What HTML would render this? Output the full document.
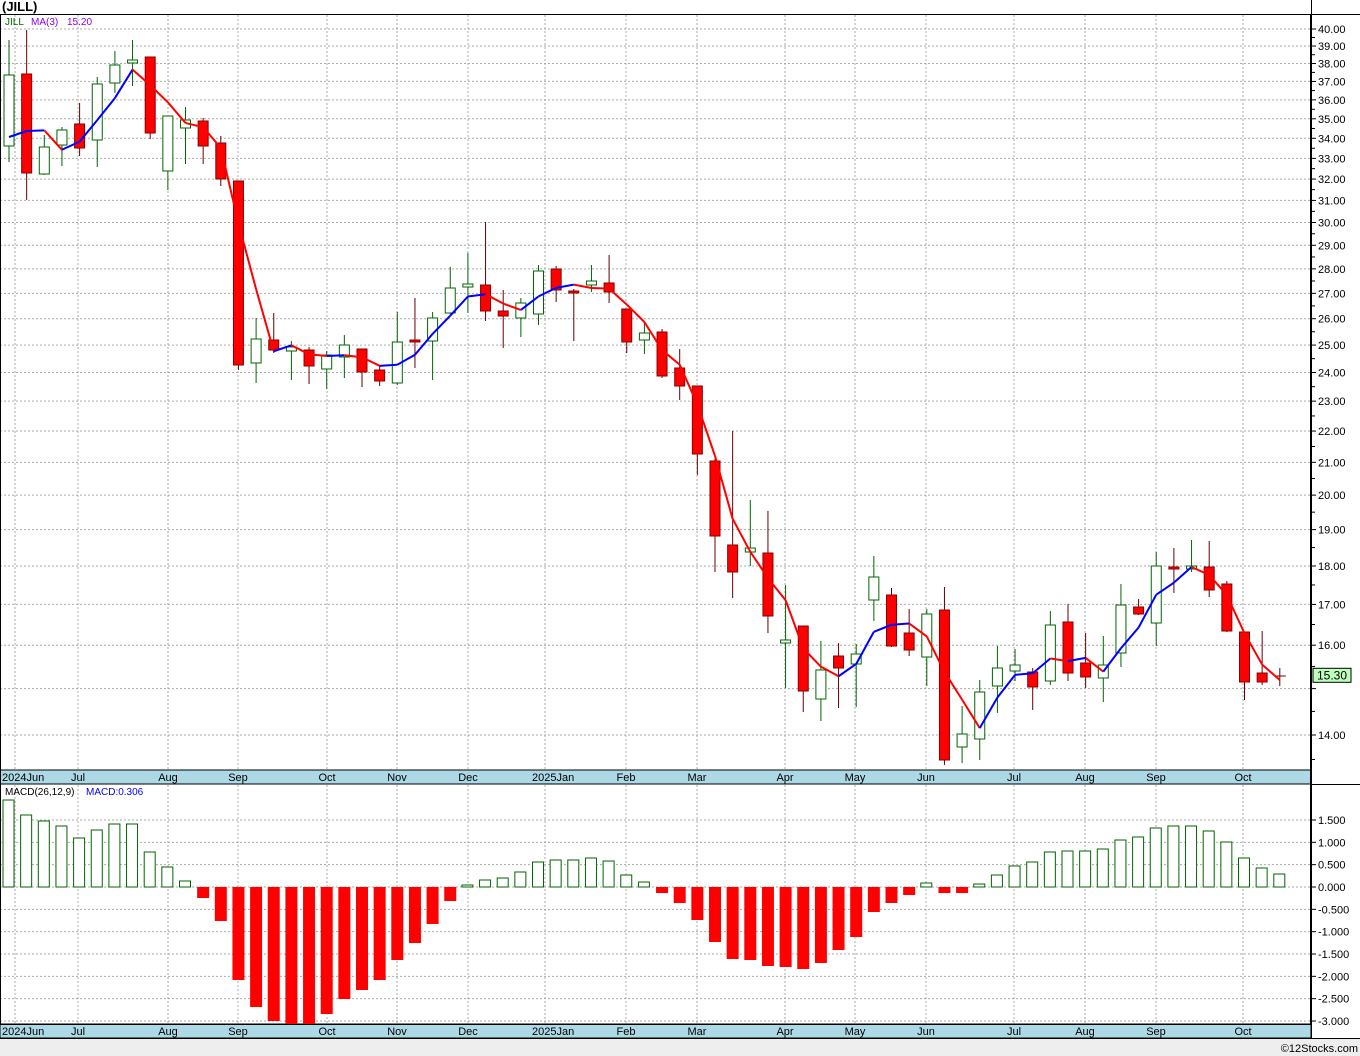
<!DOCTYPE html>
<html><head><meta charset="utf-8"><style>
body{margin:0;background:#fff;}
svg{display:block;font-family:"Liberation Sans",sans-serif;}
</style></head><body>
<svg id="s" width="1360" height="1056" xmlns="http://www.w3.org/2000/svg"></svg>
<script>
const S=document.getElementById('s');let h='';
const Y=p=>29+(Math.log(40)-Math.log(p))*672.5;
const P=y=>Math.exp(Math.log(40)-(y-29)/672.5);
const MY=v=>887-v*44.67;
h+='<rect x="0" y="0" width="1360" height="1056" fill="#fff"/>';
h+='<rect x="0" y="1038" width="1360" height="18" fill="#eee"/>';
h+='<text x="2" y="11" font-size="13" font-weight="bold" fill="#000">(JILL)</text>';
// price grid
for(let p=14;p<=40;p++){const y=Y(p);h+=`<line x1="0" x2="1311" y1="${y}" y2="${y}" stroke="#aaa" stroke-dasharray="2,2"/>`;
 h+=`<line x1="1311" x2="1316" y1="${y}" y2="${y}" stroke="#000"/>`;
 if(p!=15)h+=`<text x="1318" y="${y+4}" font-size="11">${p}.00</text>`;}
for(let p=13.5;p<=40;p+=1){const y=Y(p);if(y>30&&y<770)h+=`<line x1="1311" x2="1315" y1="${y}" y2="${y}" stroke="#000"/>`;}
for(let v=-3;v<=1.5;v+=0.5){const y=MY(v);h+=`<line x1="0" x2="1311" y1="${y}" y2="${y}" stroke="#aaa" stroke-dasharray="2,2"/>`;
 h+=`<line x1="1311" x2="1316" y1="${y}" y2="${y}" stroke="#000"/><text x="1318" y="${y+4}" font-size="11">${v.toFixed(3)}</text>`;}
const months=[[15,'2024Jun',2],[78,'Jul'],[168,'Aug'],[238,'Sep'],[327,'Oct'],[397,'Nov'],[468,'Dec'],[545,'2025Jan',532],[626,'Feb'],[697,'Mar'],[785,'Apr'],[855,'May'],[926,'Jun'],[1014,'Jul'],[1085,'Aug'],[1156,'Sep'],[1243,'Oct']];
months.forEach(m=>{h+=`<line x1="${m[0]}" x2="${m[0]}" y1="15" y2="770" stroke="#aaa" stroke-dasharray="2,2"/><line x1="${m[0]}" x2="${m[0]}" y1="785" y2="1024" stroke="#aaa" stroke-dasharray="2,2"/>`;});
// bands
[[770,784],[1024,1038]].forEach(b=>{h+=`<rect x="0" y="${b[0]}" width="1311" height="${b[1]-b[0]}" fill="#add8e6" stroke="#000"/>`;
 months.forEach(m=>{const x=m[2]!==undefined?m[2]:m[0];h+=`<text x="${x}" y="${b[0]+11}" font-size="11" ${m[2]!==undefined?'':'text-anchor="middle"'}>${m[1]}</text>`;});});
h+='<rect x="0.5" y="14.5" width="1310" height="1010" fill="none" stroke="#000"/>';
h+='<line x1="1311" x2="1360" y1="784.5" y2="784.5" stroke="#000"/>';
h+='<line x1="1311.5" x2="1311.5" y1="0" y2="1038" stroke="#000"/>';
h+='<line x1="0" x2="1360" y1="14.5" y2="14.5" stroke="#000"/>';
h+='<line x1="0" x2="1360" y1="1038.5" y2="1038.5" stroke="#000"/>';
// candles [top,bottom,high,low,up]
const C=[[75,146,40,162,1],[74,173,30,200,0],[147,174,135,175,1],[130,145,127,166,1],[124,148,103,156,0],[84,140,77,167,1],[65,83,51,93,1],[60,63,40,86,1],[57,133,57,139,0],[116,171,116,190,1],[120,128,107,164,1],[121,146,118,164,0],[143,179,136,186,0],[181,365,181,370,0],[339,363,318,383,1],[340,350,313,353,0],[347,351,341,380,1],[350,366,347,384,0],[355,369,351,389,1],[345,357,335,378,1],[349,372,349,387,0],[370,381,365,386,0],[342,383,312,385,1],[340,342,298,368,0],[318,341,312,380,1],[288,313,267,314,1],[284,287,253,313,1],[285,311,222,321,0],[311,316,290,348,0],[303,318,298,337,1],[271,314,265,325,1],[269,290,266,302,0],[291,293,289,341,0],[281,285,265,292,1],[283,292,255,303,0],[309,342,309,353,0],[333,340,322,354,1],[332,376,329,378,0],[368,386,349,400,0],[386,454,386,475,0],[461,536,459,572,0],[545,572,431,598,0],[548,552,500,566,1],[553,616,511,633,0],[640,643,585,688,1],[626,691,626,712,0],[670,699,641,721,1],[656,668,643,708,0],[654,664,644,707,1],[577,600,556,621,1],[595,646,588,647,0],[633,650,609,656,0],[614,657,609,686,1],[610,760,587,765,0],[734,747,706,763,1],[692,739,680,760,1],[668,686,646,713,1],[665,671,649,681,1],[672,687,668,710,0],[625,681,611,685,1],[622,673,604,681,0],[663,677,633,688,0],[665,678,636,702,1],[605,653,584,667,1],[607,614,599,615,0],[566,623,552,646,1],[567,569,548,593,0],[566,569,540,572,1],[567,590,541,597,0],[584,631,581,632,0],[632,682,632,700,0],[673,682,631,685,0],[676,676,668,686,2]];
const X=i=>9+17.65*i;
C.forEach((c,i)=>{const x=X(i);
 if(c[4]==2){h+=`<line x1="${x}" x2="${x}" y1="${c[2]}" y2="${c[3]}" stroke="#600"/><line x1="${x-6}" x2="${x+6}" y1="${c[0]}" y2="${c[0]}" stroke="#600"/>`;return;}
 const wc=c[4]?'#060':'#600';
 h+=`<line x1="${x}" x2="${x}" y1="${c[2]}" y2="${c[3]}" stroke="${wc}"/>`;
 h+=`<rect x="${x-5}" y="${c[0]}" width="10" height="${Math.max(c[1]-c[0],2)}" fill="${c[4]?'#fff':'#f00'}" stroke="${c[4]?'#060':'#800'}"/>`;});
// MA
const cl=C.map(c=>P(c[4]?c[0]:c[1]));
const ma=cl.map((v,i)=>i==0?P(137):i==1?P(131):(cl[i]+cl[i-1]+cl[i-2])/3);
for(let i=1;i<ma.length;i++){const col=ma[i]>=ma[i-1]?'#00f':'#f00';
 h+=`<line x1="${X(i-1)}" y1="${Y(ma[i-1])}" x2="${X(i)}" y2="${Y(ma[i])}" stroke="${col}" stroke-width="2"/>`;}
// MACD
const M=[800,815,821,826,838,830,824,824,852,867,881,898,921,980,1007,1021,1024,1024,1014,999,990,980,960,943,924,901,885,880,878,872,862,860,860,858,861,875,882,893,903,920,942,959,960,966,967,969,963,950,937,912,903,895,883,893,893,884,875,866,862,852,851,851,849,840,837,828,826,826,831,842,858,868,874];
M.forEach((y,i)=>{const x=X(i)-6;
 if(y<887)h+=`<rect x="${x}" y="${y}" width="11" height="${887-y}" fill="#fff" stroke="#060"/>`;
 else h+=`<rect x="${x}" y="887" width="12" height="${y-887}" fill="#f00"/>`;});
// labels
h+='<text x="5" y="25" font-size="10" fill="#060">JILL</text><text x="31" y="25" font-size="10" fill="#80f">MA(3)</text><text x="67" y="25" font-size="10" fill="#80f">15.20</text>';
h+='<text x="5" y="795" font-size="10" fill="#000">MACD(26,12,9)</text><text x="86" y="795" font-size="10" fill="#00f">MACD:0.306</text>';
h+=`<rect x="1313" y="${Y(15.3)-7}" width="38" height="14" fill="#bfb" stroke="#000"/><text x="1317" y="${Y(15.3)+4}" font-size="12">15.30</text>`;
h+='<text x="1358" y="1052" font-size="11" text-anchor="end">©12Stocks.com</text>';
S.innerHTML=h;
</script>
</body></html>
